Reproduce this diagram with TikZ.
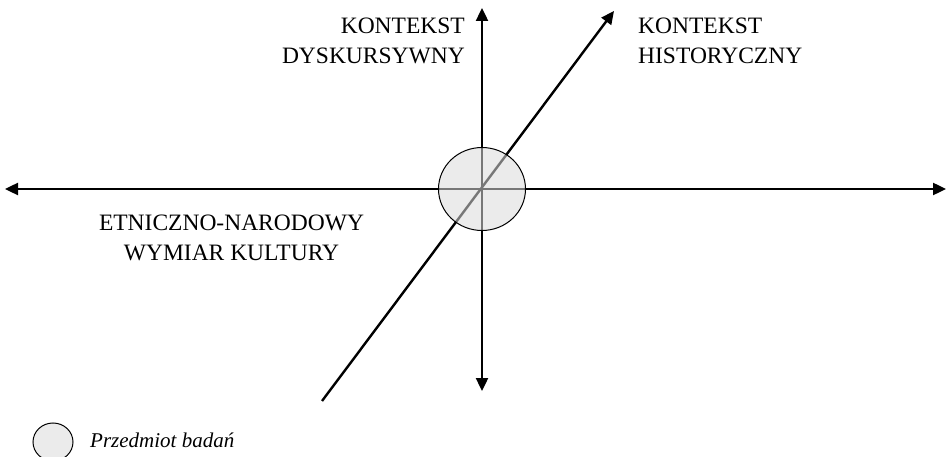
\documentclass[tikz,border=0pt]{standalone}
\usepackage{fontspec}
\setmainfont{Liberation Serif}
\usepackage{xcolor}
\usepackage{tikz}
\usetikzlibrary{arrows.meta,shapes.geometric}
\definecolor{SzaryPole}{RGB}{218,218,218}

\begin{document}
\begin{tikzpicture}[x=1pt,y=-1pt,>={Triangle[length=13pt,width=12pt]},
    os/.style={<->,line width=2.4pt,black},
    etykieta/.style={font=\fontsize{23.5}{30}\selectfont,inner sep=0pt}]
  \useasboundingbox (0,0) rectangle (948,457);
  \coordinate (O) at (482,189);

  % osie: pozioma, pionowa i ukosna
  \coordinate (lewo) at (5,189);
  \coordinate (prawo) at (946,189);
  \coordinate (gora) at (482,8);
  \coordinate (dol) at (482,391);
  \coordinate (poczatek) at (322,401);
  \coordinate (koniec) at (614,11);
  \draw[os] (lewo) -- (prawo);
  \draw[os] (dol) -- (gora);
  \draw[->,line width=2.4pt] (poczatek) -- (koniec);

  % przedmiot badan
  \node[ellipse,draw,line width=1pt,fill=SzaryPole,fill opacity=0.55,
        minimum width=87pt,minimum height=83pt,inner sep=0pt] (przedmiot) at (O) {};

  \node[etykieta,align=right,anchor=north east] (dysk) at (465,17.5) {KONTEKST\\DYSKURSYWNY};
  \node[etykieta,align=left,anchor=north west] (hist) at (638,17.5) {KONTEKST\\HISTORYCZNY};
  \node[etykieta,align=center,anchor=north] (etn) at (231.5,215) {ETNICZNO-NARODOWY\\WYMIAR KULTURY};

  % legenda
  \node[ellipse,draw,line width=1pt,fill=SzaryPole,fill opacity=0.55,
        minimum width=40pt,minimum height=38pt,inner sep=0pt] (wzor) at (53,442) {};
  \node[etykieta,anchor=base west,font=\fontsize{21}{24}\selectfont\itshape] (opis) at (90,447) {Przedmiot badań};
\end{tikzpicture}
\end{document}
